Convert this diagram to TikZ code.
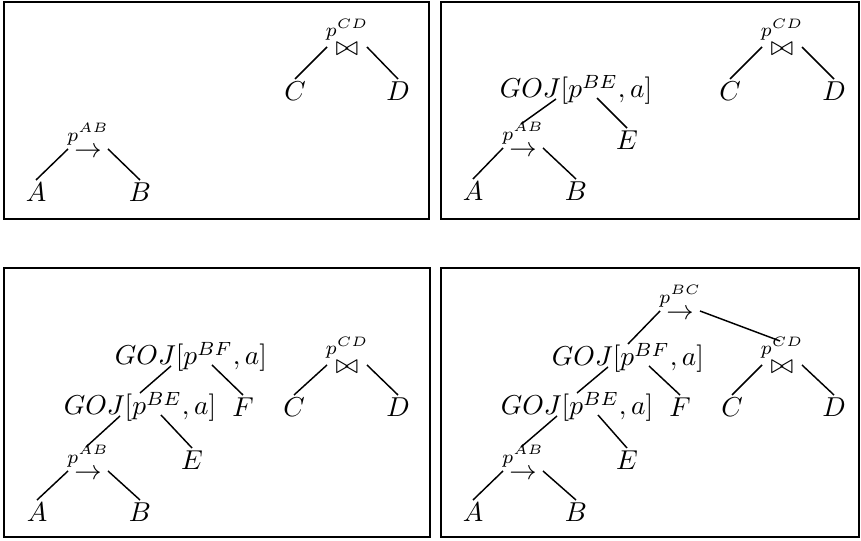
\documentclass[tikz,border=0pt]{standalone}
\usetikzlibrary{calc}
\tikzset{
  lf/.style={anchor=base, inner sep=0pt, scale=2.05},
  edge/.style={line width=1.1pt},
  panel/.style={line width=1.5pt}
}
\begin{document}
\begin{tikzpicture}[x=0.75pt,y=-0.75pt]
\useasboundingbox (0,0) rectangle (861,541);
% panels
\draw[panel] (4,2) rectangle (429,219);
\draw[panel] (441,2) rectangle (859,219);
\draw[panel] (4,268) rectangle (430,537);
\draw[panel] (441,268) rectangle (859,537);

% ---------- top left ----------
\node[lf] (tloab) at (88,158) {$\stackrel{p^{AB}}{\rightarrow}$};
\node[lf] (tla) at (36,202) {$A$};
\node[lf] (tlb) at (140,202) {$B$};
\node[lf] (tlocd) at (347,56) {$\stackrel{p^{CD}}{\bowtie}$};
\node[lf] (tlc) at (295,101) {$C$};
\node[lf] (tld) at (398,101) {$D$};
\draw[edge] ($(tloab.base)+(-20,-9)$) -- ($(tla.base)+(0,-22)$);
\draw[edge] ($(tloab.base)+(20,-9)$) -- ($(tlb.base)+(0,-22)$);
\draw[edge] ($(tlocd.base)+(-20,-9)$) -- ($(tlc.base)+(0,-22)$);
\draw[edge] ($(tlocd.base)+(20,-9)$) -- ($(tld.base)+(0,-22)$);

% ---------- top right ----------
\node[lf] (trg) at (576,98) {$GOJ[p^{BE},a]$};
\node[lf] (troab) at (523,157) {$\stackrel{p^{AB}}{\rightarrow}$};
\node[lf] (tra) at (473,201) {$A$};
\node[lf] (trb) at (576,201) {$B$};
\node[lf] (tre) at (627,150) {$E$};
\node[lf] (trocd) at (782,56) {$\stackrel{p^{CD}}{\bowtie}$};
\node[lf] (trc) at (730,101) {$C$};
\node[lf] (trd) at (834,101) {$D$};
\draw[edge] ($(trg.base)+(-20,1)$) -- ($(troab.base)+(-2,-33)$);
\draw[edge] ($(trg.base)+(21,0)$) -- ($(tre.base)+(0,-22)$);
\draw[edge] ($(troab.base)+(-20,-9)$) -- ($(tra.base)+(0,-22)$);
\draw[edge] ($(troab.base)+(20,-9)$) -- ($(trb.base)+(0,-22)$);
\draw[edge] ($(trocd.base)+(-20,-9)$) -- ($(trc.base)+(0,-22)$);
\draw[edge] ($(trocd.base)+(20,-9)$) -- ($(trd.base)+(0,-22)$);

% ---------- bottom left ----------
\node[lf] (blgf) at (191,365) {$GOJ[p^{BF},a]$};
\node[lf] (blge) at (140,415) {$GOJ[p^{BE},a]$};
\node[lf] (blf) at (243,417) {$F$};
\node[lf] (ble) at (192,470) {$E$};
\node[lf] (bloab) at (88,480) {$\stackrel{p^{AB}}{\rightarrow}$};
\node[lf] (bla) at (37,522) {$A$};
\node[lf] (blb) at (140,522) {$B$};
\node[lf] (blocd) at (347,374) {$\stackrel{p^{CD}}{\bowtie}$};
\node[lf] (blc) at (294,417) {$C$};
\node[lf] (bld) at (398,417) {$D$};
\draw[edge] ($(blgf.base)+(-20,1)$) -- ($(blge.base)+(0,-22)$);
\draw[edge] ($(blgf.base)+(21,0)$) -- ($(blf.base)+(0,-22)$);
\draw[edge] ($(blge.base)+(-20,1)$) -- ($(bloab.base)+(-2,-33)$);
\draw[edge] ($(blge.base)+(21,0)$) -- ($(ble.base)+(0,-22)$);
\draw[edge] ($(bloab.base)+(-20,-9)$) -- ($(bla.base)+(0,-22)$);
\draw[edge] ($(bloab.base)+(20,-9)$) -- ($(blb.base)+(0,-22)$);
\draw[edge] ($(blocd.base)+(-20,-9)$) -- ($(blc.base)+(0,-22)$);
\draw[edge] ($(blocd.base)+(20,-9)$) -- ($(bld.base)+(0,-22)$);

% ---------- bottom right ----------
\node[lf] (brobc) at (680,320) {$\stackrel{p^{BC}}{\rightarrow}$};
\node[lf] (brgf) at (628,366) {$GOJ[p^{BF},a]$};
\node[lf] (brge) at (577,415) {$GOJ[p^{BE},a]$};
\node[lf] (brf) at (680,417) {$F$};
\node[lf] (bre) at (627,470) {$E$};
\node[lf] (broab) at (523,480) {$\stackrel{p^{AB}}{\rightarrow}$};
\node[lf] (bra) at (473,522) {$A$};
\node[lf] (brb) at (576,522) {$B$};
\node[lf] (brocd) at (782,374) {$\stackrel{p^{CD}}{\bowtie}$};
\node[lf] (brc) at (732,417) {$C$};
\node[lf] (brd) at (834,417) {$D$};
\draw[edge] ($(brobc.base)+(-20,-9)$) -- ($(brgf.base)+(0,-22)$);
\draw[edge] ($(brobc.base)+(20,-9)$) -- ($(brocd.base)+(-2,-33)$);
\draw[edge] ($(brgf.base)+(-20,1)$) -- ($(brge.base)+(0,-22)$);
\draw[edge] ($(brgf.base)+(21,0)$) -- ($(brf.base)+(0,-22)$);
\draw[edge] ($(brge.base)+(-20,1)$) -- ($(broab.base)+(-2,-33)$);
\draw[edge] ($(brge.base)+(21,0)$) -- ($(bre.base)+(0,-22)$);
\draw[edge] ($(broab.base)+(-20,-9)$) -- ($(bra.base)+(0,-22)$);
\draw[edge] ($(broab.base)+(20,-9)$) -- ($(brb.base)+(0,-22)$);
\draw[edge] ($(brocd.base)+(-20,-9)$) -- ($(brc.base)+(0,-22)$);
\draw[edge] ($(brocd.base)+(20,-9)$) -- ($(brd.base)+(0,-22)$);
\end{tikzpicture}
\end{document}
